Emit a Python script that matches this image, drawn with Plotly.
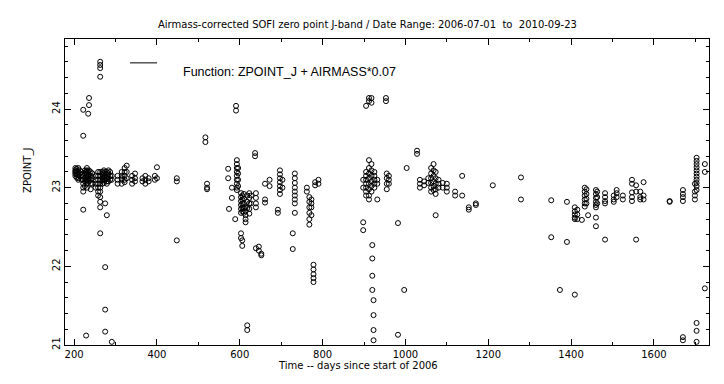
import plotly.graph_objects as go

# Observation columns: day since start of 2006, and the zero-point values observed around that day
obs_day = [
    203, 206, 210, 214, 218, 222, 226, 229, 231, 234, 236, 240, 244,
    252, 258, 263, 268, 272, 275, 279, 283, 287, 291,
    305, 315, 322, 327, 340, 347, 365, 372, 380, 395, 400, 448,
    517, 521,
    572, 574, 581, 589, 591, 593, 596, 603, 606, 610, 614, 618, 623, 627, 637, 639, 646, 652,
    661, 672, 692, 697, 703, 728, 733, 762, 768, 773, 778, 782, 790,
    898, 905, 912, 918, 920, 923, 925, 932, 953, 955, 960, 982, 997, 1003,
    1028, 1035, 1045, 1055, 1062, 1068, 1073, 1080, 1090, 1100, 1120, 1137, 1153, 1170, 1211, 1279,
    1352, 1373, 1390, 1409, 1415, 1426, 1433, 1437, 1441, 1460, 1463, 1482, 1503, 1510, 1525,
    1547, 1557, 1567, 1575, 1638, 1670, 1699, 1703, 1723,
]
obs_zp = [
    [23.25, 23.22, 23.2, 23.18, 23.15],
    [23.24, 23.21, 23.17, 23.13],
    [23.25, 23.2, 23.16, 23.12, 23.1],
    [23.22, 23.18, 23.14],
    [23.2, 23.16, 23.1],
    [23.66, 23.99, 22.72, 23.15, 23.1, 23.05, 23.0, 22.95],
    [23.22, 23.18, 23.12, 23.08, 23.02],
    [21.12, 23.2, 23.1],
    [23.25, 23.22, 23.18, 23.15, 23.1, 23.05, 23.0],
    [23.94, 23.2, 23.15, 23.1],
    [24.05, 24.14, 23.22, 23.17, 23.12, 23.08],
    [23.2, 23.15, 23.1, 23.05, 22.98],
    [23.18, 23.12, 23.05],
    [23.15, 23.1, 23.05, 23.0],
    [23.2, 23.15, 23.1, 23.05, 23.0, 22.95, 22.9],
    [24.6, 24.56, 24.52, 24.41, 23.2, 23.15, 23.1, 23.05, 23.0, 22.95, 22.88, 22.82, 22.75, 22.42],
    [23.2, 23.17, 23.13, 23.09, 23.05],
    [23.22, 23.18, 23.14, 23.1, 23.06],
    [21.99, 21.45, 21.17, 22.8, 23.2, 23.15, 23.1],
    [22.65, 23.2, 23.16, 23.12, 23.08, 23.05],
    [23.22, 23.18, 23.13, 23.08],
    [23.2, 23.15, 23.1],
    [21.04, 23.15, 23.1],
    [23.15, 23.1, 23.05],
    [23.2, 23.15, 23.12, 23.1, 23.05],
    [23.25, 23.2, 23.15, 23.1, 23.07],
    [23.28, 23.2, 23.12],
    [23.15, 23.1, 23.05],
    [23.18, 23.12, 23.08],
    [23.12, 23.08],
    [23.15, 23.1, 23.05],
    [23.12, 23.08],
    [23.15, 23.1],
    [23.26, 23.12],
    [23.12, 23.08, 22.33],
    [23.64, 23.58],
    [23.05, 23.0, 22.98],
    [23.24, 23.12],
    [22.73],
    [22.87, 23.0],
    [22.6],
    [24.04, 23.98],
    [23.35, 23.3, 23.25, 23.2, 23.15, 23.1, 23.05, 23.0, 22.97],
    [23.25, 23.18, 23.1, 23.02],
    [22.93, 22.88, 22.83, 22.78, 22.73, 22.68, 22.42, 22.36],
    [22.26, 22.9, 22.85, 22.8, 22.75, 22.7, 22.33],
    [22.92, 22.86, 22.8, 22.74, 22.68],
    [22.75, 22.7, 22.65, 22.6, 22.56],
    [22.9, 22.82, 22.74, 21.25, 21.19],
    [22.93, 22.87, 22.8, 22.73, 22.67],
    [22.9, 22.8],
    [23.44, 23.4],
    [22.23, 22.93, 22.87, 22.8, 22.75],
    [22.25, 22.2],
    [22.16, 22.14],
    [22.85, 22.81, 23.05],
    [23.1, 23.02],
    [22.72, 22.68],
    [23.22, 23.17, 23.12, 23.07, 23.02, 22.97, 22.92],
    [23.1, 23.0],
    [22.42, 22.22],
    [23.18, 23.12, 23.06, 23.0, 22.95, 22.9, 22.85, 22.8, 22.68],
    [23.0, 22.95],
    [22.88, 22.82, 22.75, 22.68, 22.6, 22.53],
    [22.85, 22.8, 22.75, 22.65],
    [22.02, 21.96, 21.9, 21.85, 21.8],
    [23.07, 23.03],
    [23.05, 23.1],
    [22.56, 22.46, 23.1, 23.0],
    [24.04, 23.2, 23.15, 23.1, 23.05, 23.0, 22.95, 22.9],
    [24.1, 24.14, 23.35, 23.25, 23.18, 23.12, 23.05, 22.98, 22.9, 22.85],
    [24.14, 24.08, 23.3, 23.22, 23.15, 23.08, 23.02, 22.95],
    [22.27, 22.1, 21.88, 21.7],
    [21.57, 21.38, 21.19, 21.06],
    [23.2, 23.15, 23.1, 23.05, 23.0],
    [22.85, 23.1, 23.05],
    [24.14, 24.1],
    [23.18, 23.12, 23.05, 22.98],
    [23.15, 23.1, 23.05],
    [21.13, 22.55],
    [21.7],
    [23.25],
    [23.47, 23.43],
    [23.1, 23.05, 23.0],
    [23.08, 23.03],
    [23.12, 23.06],
    [23.25, 23.18, 23.12, 23.06, 23.0, 22.95],
    [23.3, 23.22, 23.15, 23.08, 23.02, 22.97],
    [23.2, 23.12, 23.05, 22.98, 22.92, 22.65],
    [23.1, 23.05, 23.0],
    [23.06, 23.0],
    [23.05, 23.0, 22.95],
    [22.95, 22.9],
    [22.9, 23.15],
    [22.75, 22.72],
    [22.8, 22.78],
    [23.03],
    [23.13, 22.85],
    [22.84, 22.37],
    [21.7],
    [22.82, 22.31],
    [22.75, 22.7, 22.66, 22.62, 22.6, 21.64],
    [22.72, 22.66, 22.6],
    [22.59],
    [23.0, 22.95, 22.9, 22.85, 22.8, 22.76],
    [22.98, 22.92, 22.86, 22.8],
    [22.65],
    [22.97, 22.92, 22.87, 22.82, 22.78, 22.75, 22.62, 22.51],
    [22.95, 22.88, 22.8],
    [22.93, 22.88, 22.83, 22.8, 22.34],
    [22.9, 22.85, 22.82],
    [22.97, 22.93, 22.88],
    [22.85, 22.9],
    [22.94, 22.88, 22.83, 23.1, 23.05],
    [22.34, 23.03, 22.95],
    [22.95, 22.88, 22.85],
    [23.07, 22.9, 22.85],
    [22.82, 22.83],
    [22.97, 22.92, 22.88, 22.83, 21.1, 21.06],
    [22.95, 22.9, 22.85, 23.05],
    [23.38, 23.34, 23.3, 23.26, 23.22, 23.18, 23.14, 23.1, 23.06, 23.02, 22.97, 21.28, 21.18, 21.04],
    [23.3, 23.2, 21.72],
]

x_ticks = [200, 400, 600, 800, 1000, 1200, 1400, 1600]
y_ticks = [21, 22, 23, 24]
title_text = "Airmass-corrected SOFI zero point J-band / Date Range: 2006-07-01  to  2010-09-23"
legend_text = "Function: ZPOINT_J + AIRMASS*0.07"
x_title = "Time -- days since start of 2006"
y_title = "ZPOINT_J"

xs, ys = [], []
for d, vals in zip(obs_day, obs_zp):
    for v in vals:
        xs.append(d)
        ys.append(v)

FONT = "DejaVu Sans, Liberation Sans, sans-serif"
FONT2 = "Liberation Sans, Arial, sans-serif"

fig = go.Figure()
fig.add_trace(go.Scatter(
    x=xs, y=ys, mode="markers",
    marker=dict(symbol="circle-open", size=5, color="black", line=dict(width=1, color="black")),
    showlegend=False,
))

axis_common = dict(
    showline=True, linecolor="black", linewidth=1, mirror="allticks",
    ticks="inside", ticklen=6, tickcolor="black", tickwidth=1,
    showgrid=False, zeroline=False,
    tickfont=dict(family=FONT, size=10, color="black"),
)
fig.update_xaxes(range=[178, 1733], tickvals=x_ticks,
                 minor=dict(dtick=100, tick0=0, ticks="inside", ticklen=3, tickcolor="black", showgrid=False),
                 **axis_common)
fig.update_yaxes(range=[21, 24.89], tickvals=y_ticks, tickangle=-90,
                 minor=dict(dtick=0.2, tick0=21, ticks="inside", ticklen=3, tickcolor="black", showgrid=False),
                 **axis_common)

fig.add_annotation(text=title_text, xref="paper", yref="paper", x=0.469, y=1.072,
                   showarrow=False, font=dict(family=FONT, size=10, color="black"))
fig.add_annotation(text=x_title, xref="paper", yref="paper", x=0.455, y=-0.09,
                   showarrow=False, font=dict(family=FONT, size=10, color="black"))
fig.add_annotation(text=y_title, xref="paper", yref="paper", x=-0.07, y=0.572, textangle=-90,
                   showarrow=False, font=dict(family=FONT, size=10, color="black"))
fig.add_annotation(text=legend_text, xref="paper", yref="paper", x=0.180, y=0.922, xanchor="left",
                   showarrow=False, font=dict(family=FONT2, size=12.5, color="black"))
fig.add_shape(type="line", xref="paper", yref="paper", x0=0.101, x1=0.143, y0=0.922, y1=0.922,
              line=dict(color="black", width=1))

# the page body has an 8px margin, so the figure is sized to fit inside the 724x384 window
fig.update_layout(
    width=716, height=376,
    margin=dict(l=57, r=15, t=31, b=39),
    paper_bgcolor="white", plot_bgcolor="white",
    showlegend=False,
)
fig.write_html("out.html")
